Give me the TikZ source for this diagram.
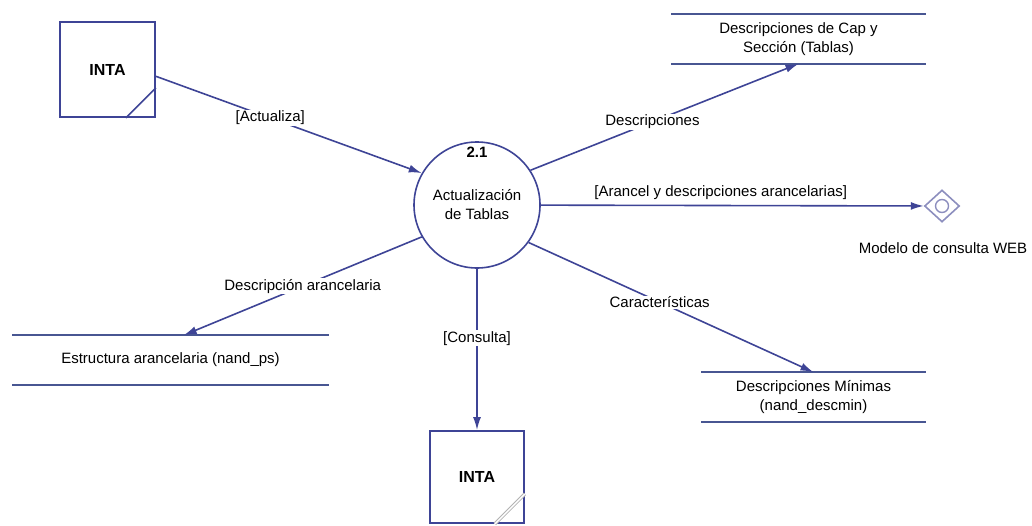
\documentclass[tikz,border=0pt]{standalone}
\usepackage{fontspec}
\setmainfont{Liberation Sans}
\usetikzlibrary{arrows.meta, shapes, positioning}

\definecolor{flowblue}{RGB}{62,68,150}
\definecolor{storeblue}{RGB}{72,86,146}
\definecolor{diagray}{RGB}{140,142,190}

\begin{document}
\begin{tikzpicture}[x=1pt,y=-1pt,font=\fontsize{15}{19}\selectfont,->,>={Latex[length=13pt,width=8pt]},line width=1.6pt]

	\tikzset{node ent/.style={rectangle, draw=flowblue, line width=1.8pt,
			minimum width=95pt, minimum height=95pt,
			font=\fontsize{16}{19}\selectfont\bfseries}}
	\tikzset{node proc/.style={circle, draw=flowblue, line width=1.6pt,
			minimum size=126pt, inner sep=0pt, align=center}}
	\tikzset{node store/.style={rectangle, draw=none,
			minimum height=48pt, inner sep=0pt, align=center}}
	\tikzset{node lbl/.style={fill=white, inner sep=1pt}}

	\useasboundingbox (0,0) rectangle (1032,525);

	\node[node ent] (INTA1) at (107.5,69.5) {INTA};
	\node[node ent, minimum width=94pt, minimum height=92pt] (INTA2) at (477,477) {INTA};
	\node[node proc] (P21) at (477,205) {Actualización\\de Tablas};
	\node[below=5pt of P21.north, inner sep=0pt, font=\fontsize{15}{19}\selectfont\bfseries] (N21) {2.1};

	\node[node store, minimum width=253pt] (S1) at (798.5,39) {Descripciones de Cap y\\Sección (Tablas)};
	\node[node store, minimum width=315pt] (S2) at (170.5,360) {Estructura arancelaria (nand\_ps)};
	\node[node store, minimum width=223pt] (S3) at (813.5,397) {Descripciones Mínimas\\(nand\_descmin)};

	\node[diamond, draw=diagray, line width=1.6pt, minimum width=35pt, minimum height=32pt, inner sep=0pt] (M1) at (942,206) {};
	\node[circle, draw=diagray, line width=1.4pt, minimum size=13pt, inner sep=0pt] (M1c) at (M1.center) {};
	\node (M1t) at (943,248) {Modelo de consulta WEB};

	% almacenes
	\foreach \s in {S1, S2, S3} {
		\draw[-, storeblue, line width=2pt] (\s.north west) -- (\s.north east);
		\draw[-, storeblue, line width=2pt] (\s.south west) -- (\s.south east);
	};

	% esquinas de las entidades
	\draw[-, flowblue, line width=1.5pt] ([xshift=-30pt]INTA1.south east) -- ([yshift=30pt]INTA1.south east);
	\draw[-, gray!60, double=white, double distance=1.5pt, line width=0.9pt] ([xshift=-30pt]INTA2.south east) -- ([yshift=30pt]INTA2.south east);

	% flujos
	\draw[flowblue] (INTA1.-8) -- (P21.150) node[node lbl, pos=0.43, text=black] {[Actualiza]};
	\draw[flowblue] (P21.33) -- (S1.south) node[node lbl, pos=0.455, text=black] {Descripciones};
	\draw[flowblue] (P21) -- (M1) node[above=2pt, pos=0.47, text=black] {[Arancel y descripciones arancelarias]};
	\draw[flowblue] (P21.210) -- (S2.62) node[node lbl, pos=0.5, text=black] {Descripción arancelaria};
	\draw[flowblue] (P21.-36) -- (S3.north) node[node lbl, pos=0.46, text=black] {Características};
	\draw[flowblue] (P21.south) -- (INTA2.north) node[node lbl, pos=0.43, text=black] {[Consulta]};

\end{tikzpicture}
\end{document}
